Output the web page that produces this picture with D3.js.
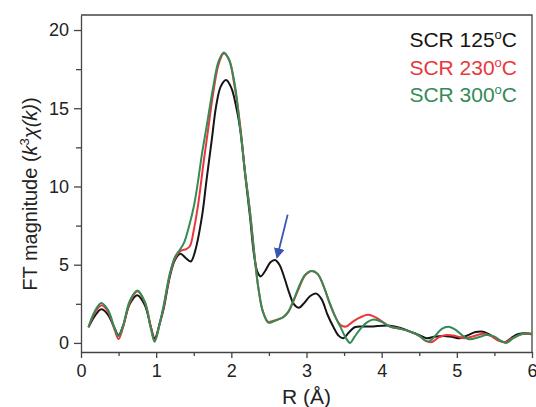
<!DOCTYPE html>
<html>
<head>
<meta charset="utf-8">
<script src="https://cdn.jsdelivr.net/npm/d3@7"></script>
<style>
  body { margin: 0; background: #fff; }
  svg { display: block; font-family: "Liberation Sans", Arial, sans-serif; }
  .axis path, .axis line { stroke: #444; stroke-width: 1.3; }
  .axis text { fill: #222; font-size: 18px; font-family: "Liberation Sans", Arial, sans-serif; }
</style>
</head>
<body>
<div id="chart"></div>
<script>
// R (Å), FT magnitude pairs
var scr125 = [[0.1,1.0],[0.18,1.7],[0.27,2.15],[0.36,1.8],[0.45,0.9],[0.5,0.5],[0.56,1.1],[0.65,2.5],[0.75,3.05],[0.85,2.4],[0.93,1.0],[0.98,0.3],
    [1.05,1.3],[1.1,2.2],[1.18,4.2],[1.25,5.3],[1.32,5.7],[1.4,5.4],[1.46,5.2],[1.52,5.9],[1.61,8.1],[1.67,10.4],[1.74,13.0],[1.8,15.2],[1.86,16.4],
    [1.93,16.8],[2.0,16.3],[2.06,15.2],[2.12,13.6],[2.19,10.5],[2.25,8.0],[2.3,5.7],[2.35,4.5],[2.39,4.25],[2.45,4.6],[2.52,5.15],[2.58,5.3],[2.64,5.0],
    [2.71,4.1],[2.77,3.2],[2.83,2.5],[2.9,2.25],[2.96,2.5],[3.05,3.0],[3.13,3.15],[3.2,2.8],[3.28,1.8],[3.36,1.0],[3.43,0.45],[3.49,0.3],[3.56,0.65],
    [3.64,1.0],[3.75,1.05],[3.89,1.05],[4.0,1.1],[4.11,1.1],[4.25,0.95],[4.38,0.72],[4.5,0.5],[4.6,0.3],[4.7,0.4],[4.82,0.45],[4.93,0.4],[5.04,0.3],
    [5.15,0.5],[5.25,0.7],[5.35,0.72],[5.45,0.5],[5.55,0.2],[5.64,0.05],[5.72,0.3],[5.8,0.55],[5.88,0.62],[5.95,0.6],[6.0,0.55]];

var scr230 = [[0.1,1.0],[0.18,1.9],[0.27,2.4],[0.36,2.0],[0.45,0.8],[0.5,0.25],[0.56,1.0],[0.65,2.6],[0.75,3.3],[0.85,2.6],[0.93,1.0],[0.98,0.15],
    [1.05,1.3],[1.1,2.3],[1.18,4.3],[1.25,5.4],[1.33,5.9],[1.4,6.0],[1.45,6.2],[1.5,7.2],[1.56,8.9],[1.63,11.5],[1.69,13.6],[1.76,16.0],[1.83,17.8],
    [1.9,18.5],[1.97,18.1],[2.04,16.5],[2.115,14.0],[2.18,11.0],[2.25,8.3],[2.31,5.5],[2.36,3.5],[2.42,2.0],[2.49,1.35],[2.55,1.4],[2.62,1.5],
    [2.69,1.65],[2.76,2.0],[2.82,2.6],[2.9,3.5],[2.98,4.3],[3.07,4.6],[3.15,4.4],[3.23,3.6],[3.31,2.5],[3.39,1.6],[3.45,1.15],[3.53,1.05],[3.6,1.3],
    [3.7,1.6],[3.82,1.8],[3.95,1.55],[4.11,1.05],[4.25,0.9],[4.38,0.72],[4.5,0.45],[4.58,0.15],[4.66,0.05],[4.76,0.35],[4.86,0.5],[4.98,0.45],
    [5.1,0.3],[5.2,0.4],[5.35,0.58],[5.45,0.45],[5.55,0.15],[5.64,0.05],[5.74,0.3],[5.88,0.57],[6.0,0.55]];

var scr300 = [[0.1,1.0],[0.18,2.0],[0.27,2.55],[0.36,2.1],[0.45,0.9],[0.5,0.45],[0.56,1.1],[0.65,2.7],[0.75,3.35],[0.85,2.6],[0.93,0.9],[0.98,0.08],
    [1.05,1.3],[1.1,2.4],[1.18,4.4],[1.25,5.5],[1.3,5.85],[1.37,6.4],[1.44,7.5],[1.5,8.7],[1.55,10.1],[1.61,12.1],[1.67,13.8],[1.76,16.4],[1.83,18.0],
    [1.9,18.57],[1.97,18.1],[2.05,16.4],[2.115,13.8],[2.18,11.0],[2.25,8.3],[2.31,5.5],[2.36,3.5],[2.42,2.0],[2.49,1.3],[2.55,1.35],[2.62,1.5],
    [2.69,1.64],[2.76,2.0],[2.82,2.64],[2.9,3.6],[2.98,4.35],[3.07,4.6],[3.15,4.4],[3.23,3.6],[3.31,2.54],[3.39,1.6],[3.45,1.04],[3.52,0.35],
    [3.58,0.0],[3.64,0.4],[3.71,0.85],[3.8,1.3],[3.89,1.5],[4.0,1.35],[4.11,1.04],[4.25,0.9],[4.38,0.72],[4.5,0.45],[4.62,0.09],[4.72,0.5],
    [4.8,0.9],[4.89,1.04],[4.98,0.85],[5.08,0.45],[5.17,0.23],[5.28,0.35],[5.4,0.5],[5.5,0.4],[5.58,0.15],[5.66,0.0],[5.75,0.3],[5.85,0.55],
    [5.93,0.62],[6.0,0.58]];

var seriesNames = ["125", "230", "300"];
var seriesColors = ["#151515", "#e8383d", "#358a55"];
var xTicks = [0, 1, 2, 3, 4, 5, 6];
var xMinor = [0.5, 1.5, 2.5, 3.5, 4.5, 5.5];
var yTicks = [0, 5, 10, 15, 20];
var yMinor = [2.5, 7.5, 12.5, 17.5];
// arrow pointing at the 2.6 Å feature: [start, end] in data units
var arrowPts = [[2.75, 8.2], [2.61, 5.5]];

var margin = {top: 15, right: 4, bottom: 55, left: 81},
    width = 536 - margin.left - margin.right,
    height = 407 - margin.top - margin.bottom;

var svg = d3.select("#chart").append("svg")
    .attr("width", 536)
    .attr("height", 407);

var chart = svg.append("g")
    .attr("transform", "translate(" + margin.left + "," + margin.top + ")");

var x = d3.scaleLinear().domain([0, 6]).range([0, width]);
var y = d3.scaleLinear().domain([-0.58, 20.96]).range([height, 0]);

// frame (top and right)
chart.append("path")
    .attr("d", "M0,0H" + width + "V" + height)
    .attr("fill", "none")
    .attr("stroke", "#444")
    .attr("stroke-width", 1.3);

// minor ticks
chart.append("g")
    .attr("class", "axis")
    .attr("transform", "translate(0," + height + ")")
    .call(d3.axisBottom(x).tickValues(xMinor).tickSize(4).tickFormat(""))
    .select(".domain").remove();
chart.append("g")
    .attr("class", "axis")
    .call(d3.axisLeft(y).tickValues(yMinor).tickSize(5).tickFormat(""))
    .select(".domain").remove();

// major axes
var xAxis = chart.append("g")
    .attr("class", "axis")
    .attr("transform", "translate(0," + height + ")")
    .call(d3.axisBottom(x).tickValues(xTicks).tickSize(6).tickSizeOuter(0).tickFormat(d3.format("d")));
xAxis.selectAll("text").attr("y", 12);

var yAxis = chart.append("g")
    .attr("class", "axis")
    .call(d3.axisLeft(y).tickValues(yTicks).tickSize(7).tickSizeOuter(0).tickFormat(d3.format("d")));
yAxis.selectAll("text").attr("x", -12);

// curves
var line = d3.line()
    .curve(d3.curveCatmullRom.alpha(0.5))
    .x(function (d) { return x(d[0]); })
    .y(function (d) { return y(d[1]); });

var allSeries = [scr125, scr230, scr300];
chart.selectAll(".series")
    .data(allSeries)
    .enter().append("path")
    .attr("class", "series")
    .attr("d", function (d) { return line(d); })
    .attr("fill", "none")
    .attr("stroke", function (d, i) { return seriesColors[i]; })
    .attr("stroke-width", 2)
    .attr("stroke-linejoin", "round");

// arrow
svg.append("defs").append("marker")
    .attr("id", "head")
    .attr("viewBox", "0 0 10 10")
    .attr("refX", 8).attr("refY", 5)
    .attr("markerWidth", 6).attr("markerHeight", 6)
    .attr("orient", "auto")
    .append("path")
    .attr("d", "M0,0L10,5L0,10z")
    .attr("fill", "#3a56b4");

chart.append("line")
    .attr("x1", x(arrowPts[0][0])).attr("y1", y(arrowPts[0][1]))
    .attr("x2", x(arrowPts[1][0])).attr("y2", y(arrowPts[1][1]))
    .attr("stroke", "#3a56b4")
    .attr("stroke-width", 1.8)
    .attr("marker-end", "url(#head)");

// legend
var legend = chart.selectAll(".legend")
    .data(seriesNames)
    .enter().append("text")
    .attr("class", "legend")
    .attr("x", width - 15)
    .attr("y", function (d, i) { return 32 + i * 27.5; })
    .attr("text-anchor", "end")
    .attr("font-size", 21)
    .attr("fill", function (d, i) { return seriesColors[i]; });
legend.append("tspan").text(function (d) { return "SCR " + d; });
legend.append("tspan").attr("dy", -8).attr("font-size", 13).text("o");
legend.append("tspan").attr("dy", 8).text("C");

// axis titles
svg.append("text")
    .attr("x", margin.left + width / 2)
    .attr("y", 404)
    .attr("text-anchor", "middle")
    .attr("font-size", 21)
    .attr("fill", "#222")
    .text("R (Å)");

var yTitle = svg.append("text")
    .attr("transform", "translate(37,194) rotate(-90)")
    .attr("text-anchor", "middle")
    .attr("font-size", 20)
    .attr("fill", "#222");
yTitle.append("tspan").text("FT magnitude (");
yTitle.append("tspan").attr("font-style", "italic").text("k");
yTitle.append("tspan").attr("dy", -8).attr("font-size", 13).text("3");
yTitle.append("tspan").attr("dy", 8).attr("font-style", "italic").text("χ(k)");
yTitle.append("tspan").text(")");
</script>
</body>
</html>
